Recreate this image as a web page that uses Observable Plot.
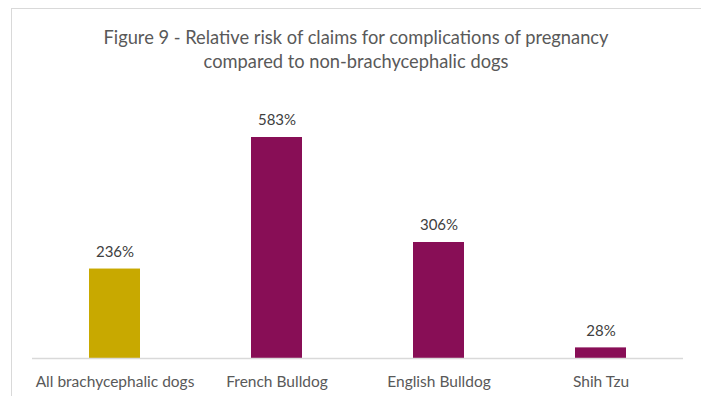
<!DOCTYPE html>
<html>
<head>
<meta charset="utf-8">
<script src="https://cdn.jsdelivr.net/npm/d3@7"></script>
<script src="https://cdn.jsdelivr.net/npm/@observablehq/plot@0.6"></script>
<style>
  html, body { margin: 0; padding: 0; background: #fff; }
  #wrap { position: relative; width: 701px; height: 396px; overflow: hidden; font-family: Lato, "Open Sans", sans-serif; }
  #frame { position: absolute; left: 11px; top: 8px; width: 700px; height: 400px; border: 1px solid #d9d9d9; box-sizing: border-box; }
  #title { position: absolute; left: 11px; width: 690px; top: 25px; text-align: center; color: #595959; font-size: 18.3px; line-height: 24px; }
  #chart { position: absolute; left: 0; top: 90px; }
</style>
</head>
<body>
<div id="wrap">
  <div id="frame"></div>
  <div id="title">Figure 9 - Relative risk of claims for complications of pregnancy<br>compared to non-brachycephalic dogs</div>
  <div id="chart"></div>
</div>
<script>
const categories = ["All brachycephalic dogs", "French Bulldog", "English Bulldog", "Shih Tzu"];
const values = [236, 583, 306, 28];
const labels = ["236%", "583%", "306%", "28%"];
const colors = ["#C8A900", "#880E56", "#880E56", "#880E56"];

const data = categories.map((c, i) => ({category: c, value: values[i], label: labels[i], color: colors[i]}));

const chart = Plot.plot({
  width: 701,
  height: 306,
  marginLeft: 32,
  marginRight: 18,
  marginTop: 47,
  marginBottom: 38,
  style: {fontFamily: "Lato, 'Open Sans', sans-serif", background: "transparent"},
  x: {domain: categories, paddingInner: 0.687, paddingOuter: 0.3435, label: null},
  y: {domain: [0, 583], axis: null},
  marks: [
    Plot.barY(data, {x: "category", y: "value", fill: "color"}),
    Plot.ruleY([0], {stroke: "#d9d9d9", strokeWidth: 1.5}),
    Plot.text(data, {x: "category", y: "value", text: "label", dy: -17, fontSize: 15, fill: "#404040"}),
    Plot.axisX({tickSize: 0, tickPadding: 17, fontSize: 15.5, color: "#595959", label: null})
  ]
});
document.getElementById("chart").appendChild(chart);
</script>
</body>
</html>
